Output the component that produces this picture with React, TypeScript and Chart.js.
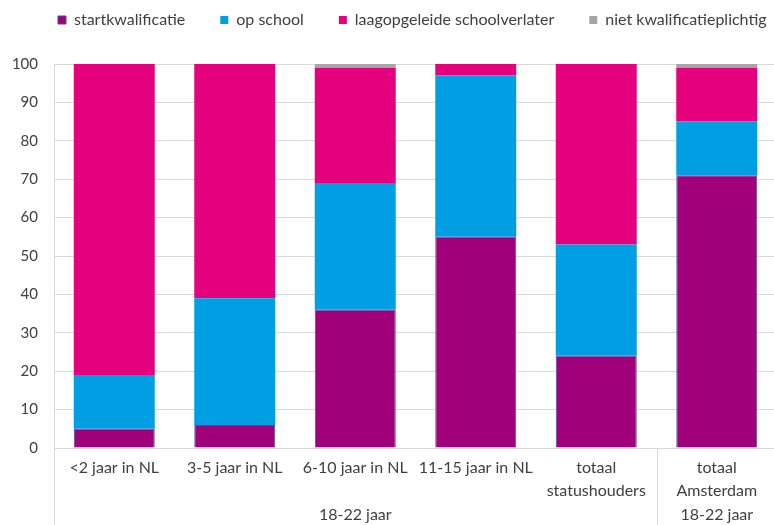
import React, { useEffect, useRef } from 'react';
import { Chart, registerables } from 'chart.js';

Chart.register(...registerables);

const categories: string[][] = [
  ['<2 jaar in NL'],
  ['3-5 jaar in NL'],
  ['6-10 jaar in NL'],
  ['11-15 jaar in NL'],
  ['totaal', 'statushouders'],
  ['totaal', 'Amsterdam'],
];
const startkwalificatie = [5, 6, 36, 55, 24, 71];
const opSchool = [14, 33, 33, 42, 29, 14];
const laagopgeleideSchoolverlater = [81, 61, 30, 3, 47, 14];
const nietKwalificatieplichtig = [0, 0, 1, 0, 0, 1];
const seriesNames = ['startkwalificatie', 'op school', 'laagopgeleide schoolverlater', 'niet kwalificatieplichtig'];
const groupLabels = ['18-22 jaar', '18-22 jaar'];
const groupSpans = [5, 1];
const yMin = 0;
const yMax = 100;
const yStep = 10;

const FONT = 'Lato, "Open Sans", sans-serif';
const TEXT = '#404040';
const GRID = '#d9d9d9';
const LEGEND_PAD = 35;
const LEGEND_FONT = 16;

const legendPlacement = {
  id: 'legendPlacement',
  beforeInit(chart: any) {
    const legend = chart.legend;
    if (!legend) return;
    const origFit = legend.fit;
    legend.fit = function () {
      this.maxWidth = 2000;
      origFit.call(this);
      this.height = 64;
    };
  },
  afterLayout(chart: any) {
    const legend = chart.legend;
    if (!legend) return;
    const itemH = Math.max(8, LEGEND_FONT);
    legend.left = 58 - LEGEND_PAD;
    legend.right = 2000;
    legend.width = legend.right - legend.left;
    legend.top = 20 - LEGEND_PAD - itemH / 2;
  },
};

const groupPlugin = {
  id: 'groupLabels',
  afterDraw(chart: any) {
    const { ctx, chartArea, scales } = chart;
    const x = scales.x;
    const n = categories.length;
    const catW = (chartArea.right - chartArea.left) / n;
    const bottom = chart.height;
    ctx.save();
    ctx.strokeStyle = GRID;
    ctx.lineWidth = 1;
    let start = 0;
    groupSpans.forEach((span, i) => {
      const x0 = x.getPixelForValue(start) - catW / 2;
      const x1 = x.getPixelForValue(start + span - 1) + catW / 2;
      const px = Math.round(x0) + 0.5;
      ctx.beginPath();
      ctx.moveTo(px, chartArea.bottom);
      ctx.lineTo(px, bottom);
      ctx.stroke();
      ctx.fillStyle = TEXT;
      ctx.font = '16px ' + FONT;
      ctx.textAlign = 'center';
      ctx.textBaseline = 'middle';
      ctx.fillText(groupLabels[i], (x0 + x1) / 2, 515);
      start += span;
    });
    ctx.restore();
  },
};

export default function App() {
  const ref = useRef<HTMLCanvasElement | null>(null);
  useEffect(() => {
    if (!ref.current) return;
    const chart = new Chart(ref.current, {
      type: 'bar',
      data: {
        labels: categories,
        datasets: [
          { label: seriesNames[0], data: startkwalificatie, backgroundColor: '#a0007a', borderColor: '#4f4aa6', borderWidth: 1 },
          { label: seriesNames[1], data: opSchool, backgroundColor: '#009fe3', borderWidth: 0 },
          { label: seriesNames[2], data: laagopgeleideSchoolverlater, backgroundColor: '#e5007e', borderWidth: 0 },
          { label: seriesNames[3], data: nietKwalificatieplichtig, backgroundColor: '#a6a6a6', borderWidth: 0 },
        ],
      },
      options: {
        responsive: false,
        animation: false,
        layout: { padding: { left: 0, right: 13, top: 0, bottom: 0 } },
        datasets: { bar: { barPercentage: 1, categoryPercentage: 0.672 } },
        plugins: {
          legend: {
            position: 'top',
            align: 'start',
            labels: {
              boxWidth: 8,
              boxHeight: 8,
              padding: LEGEND_PAD,
              color: TEXT,
              font: { family: FONT, size: LEGEND_FONT },
            },
          },
          tooltip: { enabled: false },
        },
        scales: {
          x: {
            stacked: true,
            grid: { display: false, drawTicks: false },
            border: { display: true, color: GRID },
            ticks: { color: TEXT, font: { family: FONT, size: 16, lineHeight: 1.4 }, padding: 9, maxRotation: 0, autoSkip: false },
            afterFit(scale: any) { scale.height = 77; },
          },
          y: {
            stacked: true,
            min: yMin,
            max: yMax,
            grid: { color: GRID, drawTicks: false },
            border: { display: true, color: GRID },
            ticks: { stepSize: yStep, color: TEXT, font: { family: FONT, size: 15 }, padding: 16 },
            afterFit(scale: any) { scale.width = 54; },
          },
        },
      },
      plugins: [legendPlacement, groupPlugin],
    });
    return () => chart.destroy();
  }, []);
  return (
    <div style={{ position: 'absolute', left: 0, top: 0, width: 790, height: 525, overflow: 'hidden' }}>
      <canvas ref={ref} width={790} height={525} style={{ display: 'block' }} />
    </div>
  );
}
